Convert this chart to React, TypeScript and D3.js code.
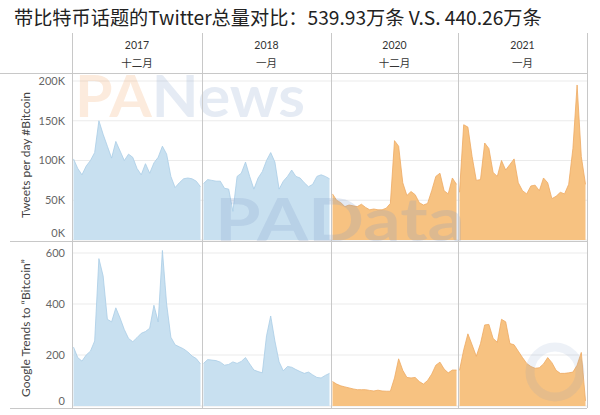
import * as d3 from 'd3'

// column headers
const years = ['2017', '2018', '2020', '2021']
const months = ['十二月', '一月', '十二月', '一月']
const colorKeys = ['blue', 'blue', 'orange', 'orange']

// Tweets per day #Bitcoin, in thousands, one value per day
const tweetsDec2017 = [102, 90, 82, 93, 100, 110, 150, 133, 118, 103, 124, 112, 100, 108, 104, 90, 82, 96, 84, 97, 104, 118, 108, 80, 66, 72, 77, 78, 77, 74, 67]
const tweetsJan2018 = [71, 76, 75, 74, 74, 65, 64, 36, 80, 84, 98, 80, 64, 78, 86, 100, 110, 98, 64, 74, 80, 88, 80, 78, 72, 67, 70, 80, 82, 80, 77]
const tweetsDec2020 = [58, 50, 47, 42, 44, 43, 42, 45, 41, 38, 39, 38, 38, 40, 46, 125, 118, 72, 56, 61, 57, 47, 44, 46, 62, 80, 84, 62, 58, 78, 70]
const tweetsJan2021 = [60, 145, 142, 105, 75, 76, 122, 115, 85, 80, 100, 88, 95, 102, 72, 62, 58, 68, 69, 62, 78, 72, 52, 55, 60, 58, 70, 115, 195, 105, 70]

// Google Trends to "Bitcoin"
const trendsDec2017 = [231, 190, 176, 200, 215, 255, 578, 510, 340, 330, 385, 345, 300, 265, 252, 268, 285, 292, 305, 395, 330, 610, 400, 270, 240, 232, 224, 212, 196, 186, 165]
const trendsJan2018 = [167, 182, 180, 178, 172, 160, 163, 173, 167, 175, 190, 165, 141, 135, 130, 275, 353, 255, 173, 138, 155, 152, 143, 135, 128, 133, 122, 112, 110, 120, 128]
const trendsDec2020 = [96, 86, 79, 75, 71, 67, 64, 64, 64, 61, 59, 62, 59, 58, 58, 110, 185, 140, 112, 110, 112, 96, 86, 100, 125, 160, 172, 145, 130, 141, 141]
const trendsJan2021 = [140, 220, 283, 240, 195, 245, 318, 320, 265, 250, 340, 330, 245, 240, 215, 190, 167, 155, 148, 150, 165, 190, 170, 140, 128, 128, 130, 133, 160, 210, 20]

const tweetTicks = [0, 50, 100, 150, 200]
const trendTicks = [0, 200, 400, 600]

const tweetCols = [tweetsDec2017, tweetsJan2018, tweetsDec2020, tweetsJan2021]
const trendCols = [trendsDec2017, trendsJan2018, trendsDec2020, trendsJan2021]

const W = 600, H = 415
const colEdges = [72, 202, 331, 458, 587]
const fills: Record<string, string> = { blue: '#c8e0f0', orange: '#f7c281' }
const strokes: Record<string, string> = { blue: '#aacde6', orange: '#eeaa62' }
const font = 'Lato, "Noto Sans", sans-serif'
const cjk = '"Noto Sans CJK SC", sans-serif'

const yTweets = d3.scaleLinear().domain([0, 200]).range([240, 81])
const yTrends = d3.scaleLinear().domain([0, 600]).range([406, 253])

function Pane({ values, col, y }: { values: number[], col: number, y: d3.ScaleLinear<number, number> }) {
  const x = d3.scaleLinear().domain([0, values.length - 1]).range([colEdges[col] + 1.5, colEdges[col + 1] - 1.5])
  const area = d3.area<number>().x((d, i) => x(i)).y0(y(0)).y1(d => y(d))
  const line = d3.line<number>().x((d, i) => x(i)).y(d => y(d))
  const key = colorKeys[col]
  return (
    <g>
      <path d={area(values) || ''} fill={fills[key]} />
      <path d={line(values) || ''} fill="none" stroke={strokes[key]} strokeWidth={0.8} />
    </g>
  )
}

export default function App() {
  return (
    <svg width={W} height={H} style={{ position: 'absolute', left: 0, top: 0, background: '#fff' }}>
      <rect width={W} height={H} fill="#fff" />
      <text x={14} y={25} fontSize={19.2} fill="#222" fontFamily={cjk}>
        带比特币话题的Twitter总量对比：539.93万条 V.S. 440.26万条
      </text>

      {/* gridlines */}
      {tweetTicks.map(t => (
        <line key={'gt' + t} x1={colEdges[0]} x2={colEdges[4]} y1={yTweets(t)} y2={yTweets(t)} stroke="#ebebeb" strokeWidth={1} />
      ))}
      {trendTicks.map(t => (
        <line key={'gr' + t} x1={colEdges[0]} x2={colEdges[4]} y1={yTrends(t)} y2={yTrends(t)} stroke="#ebebeb" strokeWidth={1} />
      ))}

      {/* areas */}
      {tweetCols.map((v, i) => <Pane key={'t' + i} values={v} col={i} y={yTweets} />)}
      {trendCols.map((v, i) => <Pane key={'r' + i} values={v} col={i} y={yTrends} />)}

      {/* watermarks */}
      <text x={75} y={117} fontSize={58} fontWeight={700} fontFamily={font} textLength={230} lengthAdjust="spacingAndGlyphs" fillOpacity={0.2}>
        <tspan fill="#ee9a55">PA</tspan><tspan fill="#7f9cc8">News</tspan>
      </text>
      <text x={215} y={241} fontSize={60} fontWeight={700} fontFamily={font} textLength={250} lengthAdjust="spacingAndGlyphs" fill="#7f9cc8" fillOpacity={0.22}>
        PAData
      </text>
      <circle cx={555} cy={372} r={25} fill="none" stroke="#7f9cc8" strokeOpacity={0.14} strokeWidth={9} />

      {/* frame */}
      <line x1={0} x2={colEdges[4]} y1={73.5} y2={73.5} stroke="#c8c8c8" />
      <line x1={10} x2={colEdges[4]} y1={241.5} y2={241.5} stroke="#c8c8c8" />
      <line x1={10} x2={colEdges[4]} y1={408.5} y2={408.5} stroke="#c8c8c8" />
      {colEdges.map(x => (
        <line key={'v' + x} x1={x + 0.5} x2={x + 0.5} y1={33} y2={408} stroke="#c8c8c8" />
      ))}

      {/* column headers */}
      {years.map((yr, i) => {
        const cx = (colEdges[i] + colEdges[i + 1]) / 2
        return (
          <g key={'h' + i} fill="#333" textAnchor="middle">
            <text x={cx} y={48.5} fontSize={10.5} fontFamily={font}>{yr}</text>
            <text x={cx} y={66.5} fontSize={10.5} fontFamily={cjk}>{months[i]}</text>
          </g>
        )
      })}

      {/* y axes */}
      {tweetTicks.map(t => (
        <text key={'lt' + t} x={65} y={Math.min(yTweets(t), 233)} dy="0.35em" textAnchor="end" fontSize={11} fill="#666" fontFamily={font}>{t + 'K'}</text>
      ))}
      {trendTicks.map(t => (
        <text key={'lr' + t} x={65} y={Math.min(yTrends(t), 401)} dy="0.35em" textAnchor="end" fontSize={11} fill="#666" fontFamily={font}>{t}</text>
      ))}
      <text transform="translate(30,155) rotate(-90)" textAnchor="middle" fontSize={12} fill="#444" fontFamily={font}>Tweets per day #Bitcoin</text>
      <text transform="translate(30,328) rotate(-90)" textAnchor="middle" fontSize={12} fill="#444" fontFamily={font}>Google Trends to “Bitcoin”</text>
    </svg>
  )
}
